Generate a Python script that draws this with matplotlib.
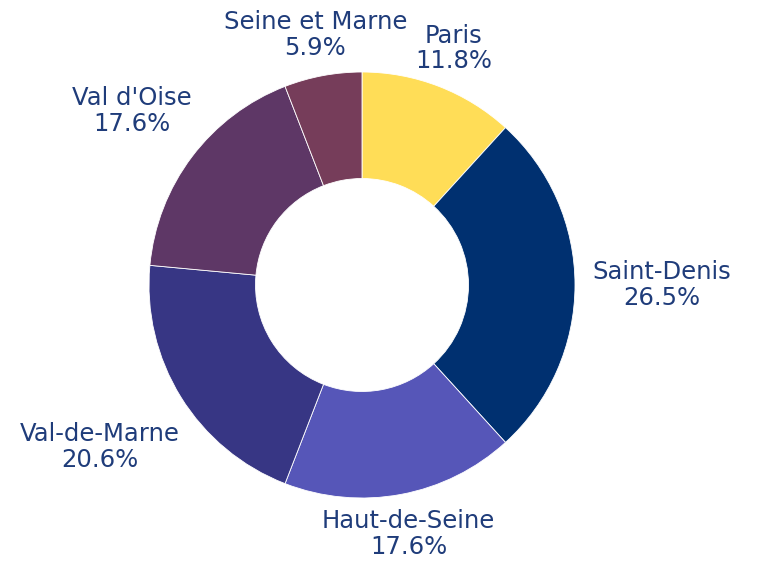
import numpy as np
import matplotlib.pyplot as plt

# Data
labels = ['Paris', 'Saint-Denis', 'Haut-de-Seine', 'Val-de-Marne', "Val d'Oise", 'Seine et Marne']
counts = [4, 9, 6, 7, 6, 2]
colors = ['#ffdd57', '#003070', '#5656b8', '#373684', '#5e3766', '#763d5a']
text_color = '#1f3c7a'

fig = plt.figure(figsize=(7.57, 5.62), dpi=100)
# square axes holding the donut, centre at (362, 285) px, radius 213 px
R = 213
ax = fig.add_axes([(362 - R) / 757, (562 - 285 - R) / 562, 2 * R / 757, 2 * R / 562])

wedges, _ = ax.pie(counts, colors=colors, startangle=90, counterclock=False,
                   radius=1.0, wedgeprops=dict(width=0.5, edgecolor='white', linewidth=0.6))
ax.set_xlim(-1, 1)
ax.set_ylim(-1, 1)
ax.set_aspect('equal')
ax.axis('off')

total = sum(counts)
fig.canvas.draw()
renderer = fig.canvas.get_renderer()
px = 1.0 / R  # data units per pixel

for w, lab, c in zip(wedges, labels, counts):
    ang = np.deg2rad((w.theta1 + w.theta2) / 2)
    txt = ax.text(0, 0, f'{lab}\n{100 * c / total:.1f}%', ha='center', va='center',
                  fontsize=17.5, color=text_color, linespacing=1.1, clip_on=False)
    bb = txt.get_window_extent(renderer)
    hw, hh = bb.width / 2 * px, bb.height / 2 * px
    ca, sa = abs(np.cos(ang)), abs(np.sin(ang))
    d = 0.98 + 0.1 * ca + hw * ca + hh * sa
    txt.set_position((d * np.cos(ang), d * np.sin(ang)))

fig.savefig('out.png', dpi=100, facecolor='white')
